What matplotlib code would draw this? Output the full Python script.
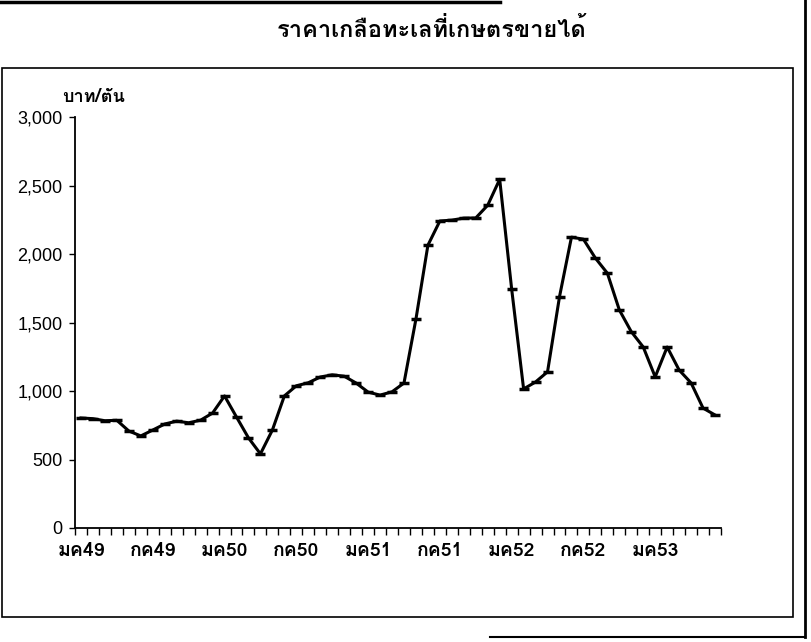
import matplotlib
matplotlib.use("Agg")
import matplotlib.pyplot as plt
from matplotlib import font_manager
from matplotlib.ft2font import FT2Font
from matplotlib.lines import Line2D
from matplotlib.patches import Rectangle
from matplotlib.ticker import FuncFormatter, FixedLocator

# === Dados: preço do sal marinho (บาท/ตัน), mensal, มค49 .. มิย53 ===
meses = list(range(54))
precos = [
    803, 798, 783, 786, 708, 672, 715, 759, 780, 768, 787, 839,
    964, 810, 658, 541, 715, 964, 1038, 1060, 1102, 1118, 1108, 1058,
    992, 970, 994, 1058, 1525, 2064, 2241, 2247, 2262, 2263, 2356, 2545,
    1745, 1015, 1066, 1140, 1688, 2123, 2108, 1970, 1860, 1592, 1433, 1321,
    1103, 1321, 1153, 1059, 875, 825,
]
rotulos_x = ["มค49", "กค49", "มค50", "กค50", "มค51", "กค51", "มค52", "กค52", "มค53"]
titulo = "ราคาเกลือทะเลที่เกษตรขายได้"
unidade = "บาท/ตัน"

# === Fonte com glifos tailandeses ===
fonte_thai = None
for f in font_manager.fontManager.ttflist:
    try:
        if 0x0E01 in FT2Font(f.fname).get_charmap():
            fonte_thai = f.name
            if "bold" in f.fname.lower():
                break
    except Exception:
        pass
familia_thai = [fonte_thai, "DejaVu Sans"] if fonte_thai else ["DejaVu Sans"]
familia_num = ["Liberation Sans", "DejaVu Sans"]

W, H = 811, 642
fig = plt.figure(figsize=(W / 100, H / 100), dpi=100)
fig.patch.set_facecolor("white")

def px(x, y):
    return x / W, 1 - y / H

# === Molduras ===
x0, y0 = px(2, 617)
x1, y1 = px(793, 68)
fig.add_artist(Rectangle((x0, y0), x1 - x0, y1 - y0, transform=fig.transFigure,
                         fill=False, lw=1.2, ec="black"))
fig.add_artist(Line2D([0, 500 / W], [1 - 2 / H] * 2, transform=fig.transFigure, lw=2.5, color="black"))
fig.add_artist(Line2D([805 / W] * 2, [1, 1 - 637 / H], transform=fig.transFigure, lw=2, color="black"))
fig.add_artist(Line2D([490 / W, 805 / W], [1 - 637 / H] * 2, transform=fig.transFigure, lw=1.5, color="black"))

# === Eixos ===
ax = fig.add_axes([75 / W, 1 - 528 / H, (721 - 75) / W, (528 - 117) / H])
ax.plot(meses, precos, color="black", lw=2.2, marker="_", ms=7, mew=2.5)

ax.set_xlim(-0.5, len(meses) - 0.5)
ax.set_ylim(0, 3000)
ax.set_yticks(range(0, 3001, 500))
ax.yaxis.set_major_formatter(FuncFormatter(lambda v, p: f"{int(v):,}"))
ax.xaxis.set_major_locator(FixedLocator(list(range(0, len(meses), 6))))
ax.set_xticklabels(rotulos_x)
ax.xaxis.set_minor_locator(FixedLocator([i - 0.5 for i in range(len(meses) + 1)]))
ax.tick_params(axis="x", which="major", length=0, pad=10)
ax.tick_params(axis="x", which="minor", length=5, width=1)
ax.tick_params(axis="y", length=4, width=1, pad=5)
for s in ["top", "right"]:
    ax.spines[s].set_visible(False)
for s in ["left", "bottom"]:
    ax.spines[s].set_linewidth(1.3)

for t in ax.get_yticklabels():
    t.set_family(familia_num)
    t.set_fontsize(13)
for t in ax.get_xticklabels():
    t.set_family(familia_thai)
    t.set_fontsize(14)
    t.set_fontweight("bold")

fig.text(432 / W, 1 - 30 / H, titulo, ha="center", va="center",
         family=familia_thai, fontsize=17, fontweight="bold")
fig.text(62 / W, 1 - 97 / H, unidade, ha="left", va="center",
         family=familia_thai, fontsize=13, fontweight="bold")

fig.savefig("out.png", dpi=100)
